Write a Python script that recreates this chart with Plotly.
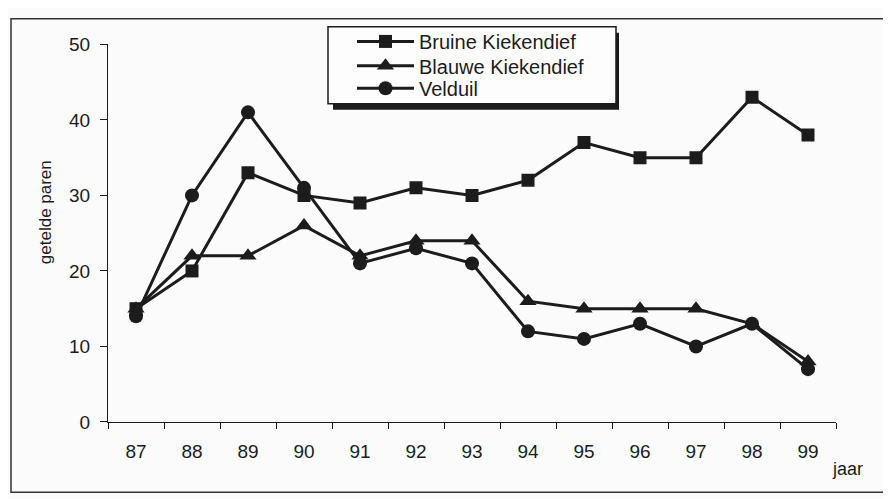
import plotly.graph_objects as go

years = ["87", "88", "89", "90", "91", "92", "93", "94", "95", "96", "97", "98", "99"]
bruine = [15, 20, 33, 30, 29, 31, 30, 32, 37, 35, 35, 43, 38]
blauwe = [15, 22, 22, 26, 22, 24, 24, 16, 15, 15, 15, 13, 8]
velduil = [14, 30, 41, 31, 21, 23, 21, 12, 11, 13, 10, 13, 7]
y_ticks = [0, 10, 20, 30, 40, 50]

INK = "#1c1c1c"
BG = "#fbfbfb"
OFF = 8  # page body margin
W, H = 891, 499
# plot area in page pixels: x 108..836, y 35..422
L = 108 - OFF
R = W - (836 - OFF)
T = 0                      # paper reaches the top so in-figure legends never push margins
B = H - (422 - OFF)
pw, ph = W - L - R, H - T - B
y_top = (ph - (35 - OFF)) / ph   # y-axis domain top (page y 35)

def px(x):
    return (x - OFF - L) / pw

def py(y):
    return (H - B - (y - OFF)) / ph

fig = go.Figure()
series = [("Bruine Kiekendief", bruine, "square", 13, "legend", 32),
          ("Blauwe Kiekendief", blauwe, "triangle-up", 15, "legend2", 57),
          ("Velduil", velduil, "circle", 14, "legend3", 80)]
for name, vals, sym, sz, lg, _ in series:
    fig.add_trace(go.Scatter(x=years, y=vals, name=name, mode="lines+markers",
                             line=dict(color=INK, width=3),
                             marker=dict(symbol=sym, size=sz, color=INK),
                             legend=lg))

shapes = [
    # outer frame
    dict(type="rect", xref="paper", yref="paper", x0=px(11), x1=px(888), y0=py(494), y1=py(8.8),
         line=dict(color="#333", width=1.5), layer="below"),
    # legend shadow
    dict(type="rect", xref="paper", yref="paper", x0=px(333), x1=px(619), y0=py(102), y1=py(23),
         fillcolor=INK, line=dict(width=0), layer="above"),
    # legend box
    dict(type="rect", xref="paper", yref="paper", x0=px(328), x1=px(616), y0=py(96), y1=py(17),
         fillcolor="#fdfdfd", line=dict(color=INK, width=1.5), layer="above"),
]

legend_common = dict(xanchor="left", yanchor="middle", bgcolor="rgba(0,0,0,0)",
                     borderwidth=0, font=dict(size=20), itemwidth=57)
layout_legends = {}
for _, _, _, _, lg, rowy in series:
    layout_legends[lg] = dict(x=px(352), y=py(rowy), **legend_common)

fig.update_layout(
    width=W, height=H,
    margin=dict(l=L, r=R, t=T, b=B),
    paper_bgcolor=BG, plot_bgcolor=BG,
    font=dict(family="Liberation Sans, Arial, sans-serif", size=19, color=INK),
    showlegend=True,
    xaxis=dict(type="category", range=[-0.5, 12.5], tickson="boundaries",
               ticks="outside", ticklen=6, tickcolor=INK, tickwidth=1.2,
               showline=True, linecolor=INK, linewidth=1.2, showgrid=False, zeroline=False,
               tickfont=dict(size=19), ticklabelstandoff=12),
    yaxis=dict(range=[0, 50], domain=[0, y_top], tickvals=y_ticks, ticks="outside", ticklen=7,
               tickcolor=INK, tickwidth=1.2, showline=True, linecolor=INK, linewidth=1.2,
               showgrid=False, zeroline=False, tickfont=dict(size=19), ticklabelstandoff=6),
    shapes=shapes,
    annotations=[
        dict(text="jaar", xref="paper", yref="paper", x=px(847), y=py(470),
             xanchor="center", yanchor="middle", showarrow=False, font=dict(size=18)),
        dict(text="getelde paren", xref="paper", yref="paper", x=px(45), y=py(207),
             xanchor="center", yanchor="middle", textangle=-90, showarrow=False,
             font=dict(size=17)),
    ],
    **layout_legends,
)

fig.write_html("out.html")
